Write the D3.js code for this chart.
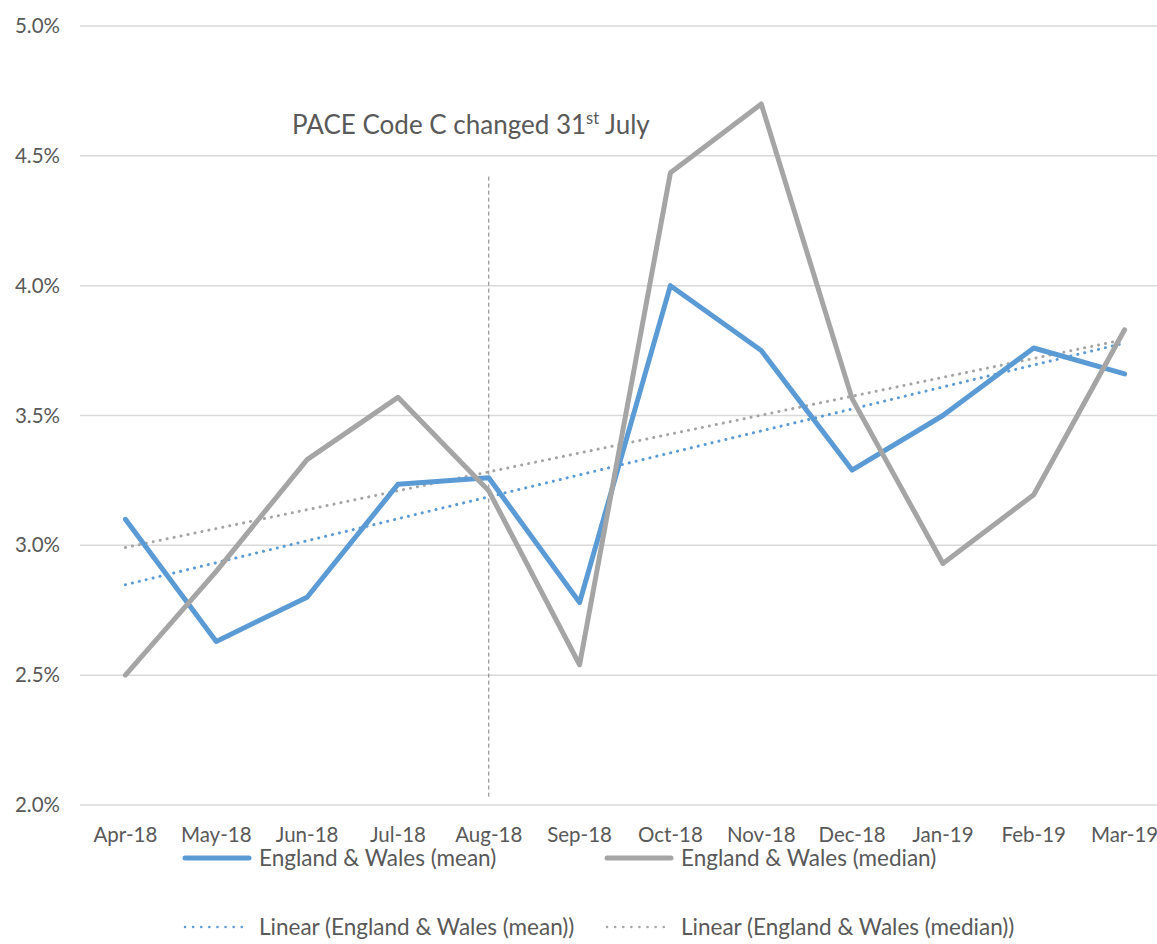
<!DOCTYPE html>
<html>
<head>
<meta charset="utf-8">
<script src="https://cdn.jsdelivr.net/npm/d3@7"></script>
<style>
  body { margin: 0; background: #fff; }
  text { font-family: Lato, "Open Sans", sans-serif; fill: #595959; }
</style>
</head>
<body>
<div id="wrapper"></div>
<script>
const months = ["Apr-18", "May-18", "Jun-18", "Jul-18", "Aug-18", "Sep-18",
  "Oct-18", "Nov-18", "Dec-18", "Jan-19", "Feb-19", "Mar-19"];
const meanValues = [3.10, 2.63, 2.80, 3.235, 3.26, 2.78, 4.00, 3.75, 3.29, 3.50, 3.76, 3.66];
const medianValues = [2.50, 2.90, 3.33, 3.57, 3.21, 2.54, 4.435, 4.70, 3.565, 2.93, 3.195, 3.83];
const yTicks = [2.0, 2.5, 3.0, 3.5, 4.0, 4.5, 5.0];
const markerMonth = "Aug-18";
const annotation = "PACE Code C changed 31";

// least squares trend, as the spreadsheet's "Linear" trendline does
function trend(values) {
  const mx = d3.mean(values, (d, i) => i);
  const my = d3.mean(values);
  const sxy = d3.sum(values, (d, i) => (i - mx) * (d - my));
  const sxx = d3.sum(values, (d, i) => (i - mx) * (i - mx));
  const slope = sxy / sxx;
  return values.map((d, i) => my + slope * (i - mx));
}

const dimensions = {
  width: 1157,
  height: 944,
  margin: { top: 26, right: -13, bottom: 139, left: 80 },
};
dimensions.boundedWidth = dimensions.width - dimensions.margin.left - dimensions.margin.right;
dimensions.boundedHeight = dimensions.height - dimensions.margin.top - dimensions.margin.bottom;

const svg = d3.select("#wrapper").append("svg")
  .attr("width", dimensions.width)
  .attr("height", dimensions.height)
  .style("display", "block");

const bounds = svg.append("g")
  .attr("transform", `translate(${dimensions.margin.left},${dimensions.margin.top})`);

const xScale = d3.scaleBand()
  .domain(months)
  .range([0, dimensions.boundedWidth]);

const yScale = d3.scaleLinear()
  .domain([2.0, 5.0])
  .range([dimensions.boundedHeight, 0]);

const xPos = d => xScale(d) + xScale.bandwidth() / 2;

// gridlines
bounds.append("g")
  .selectAll("line")
  .data(yTicks)
  .join("line")
  .attr("x1", 0)
  .attr("x2", dimensions.boundedWidth)
  .attr("y1", d => yScale(d))
  .attr("y2", d => yScale(d))
  .attr("stroke", "#d9d9d9")
  .attr("stroke-width", 1.5);

// y axis
const yAxis = bounds.append("g")
  .call(d3.axisLeft(yScale).tickValues(yTicks).tickFormat(d => d.toFixed(1) + "%").tickSize(0).tickPadding(20));
yAxis.select(".domain").remove();
yAxis.selectAll("text")
  .attr("font-size", 20.5)
  .attr("fill", "#595959")
  .attr("font-family", "Lato, sans-serif");

// x axis
const xAxis = bounds.append("g")
  .attr("transform", `translate(0,${dimensions.boundedHeight})`)
  .call(d3.axisBottom(xScale).tickSize(0).tickPadding(22));
xAxis.select(".domain").remove();
xAxis.selectAll("text")
  .attr("font-size", 20.5)
  .attr("fill", "#595959")
  .attr("font-family", "Lato, sans-serif");

// marker line for the code change
bounds.append("line")
  .attr("x1", xPos(markerMonth))
  .attr("x2", xPos(markerMonth))
  .attr("y1", yScale(4.42))
  .attr("y2", yScale(2.03))
  .attr("stroke", "#7f7f7f")
  .attr("stroke-width", 1)
  .attr("stroke-dasharray", "4 3");

const ann = bounds.append("text")
  .attr("x", 212)
  .attr("y", 108)
  .attr("font-size", 26);
ann.append("tspan").text(annotation);
ann.append("tspan").text("st").attr("font-size", 16.5).attr("dy", -10);
ann.append("tspan").text(" July").attr("dy", 10);

const lineGenerator = d3.line()
  .x((d, i) => xPos(months[i]))
  .y(d => yScale(d));

const blue = "#5b9bd5";
const grey = "#a5a5a5";

// trendlines
bounds.append("path")
  .attr("d", lineGenerator(trend(medianValues)))
  .attr("fill", "none")
  .attr("stroke", grey)
  .attr("stroke-width", 3)
  .attr("stroke-linecap", "round")
  .attr("stroke-dasharray", "0.1 7");

bounds.append("path")
  .attr("d", lineGenerator(trend(meanValues)))
  .attr("fill", "none")
  .attr("stroke", blue)
  .attr("stroke-width", 3)
  .attr("stroke-linecap", "round")
  .attr("stroke-dasharray", "0.1 7");

bounds.append("path")
  .attr("d", lineGenerator(meanValues))
  .attr("fill", "none")
  .attr("stroke", blue)
  .attr("stroke-width", 5)
  .attr("stroke-linejoin", "round")
  .attr("stroke-linecap", "round");

bounds.append("path")
  .attr("d", lineGenerator(medianValues))
  .attr("fill", "none")
  .attr("stroke", grey)
  .attr("stroke-width", 5)
  .attr("stroke-linejoin", "round")
  .attr("stroke-linecap", "round");

// legend
const legendItems = [
  { label: "England & Wales (mean)", color: blue, dotted: false, x: 183, y: 858 },
  { label: "England & Wales (median)", color: grey, dotted: false, x: 605, y: 858 },
  { label: "Linear (England & Wales (mean))", color: blue, dotted: true, x: 183, y: 927 },
  { label: "Linear (England & Wales (median))", color: grey, dotted: true, x: 605, y: 927 },
];

const legend = svg.append("g")
  .selectAll("g")
  .data(legendItems)
  .join("g")
  .attr("transform", d => `translate(${d.x},${d.y})`);

legend.append("line")
  .attr("x1", 2)
  .attr("x2", 66)
  .attr("stroke", d => d.color)
  .attr("stroke-width", d => d.dotted ? 2.5 : 5)
  .attr("stroke-linecap", "round")
  .attr("stroke-dasharray", d => d.dotted ? "0.1 8" : null);

legend.append("text")
  .attr("x", 76)
  .attr("dy", "0.35em")
  .attr("font-size", 22.5)
  .text(d => d.label);
</script>
</body>
</html>
